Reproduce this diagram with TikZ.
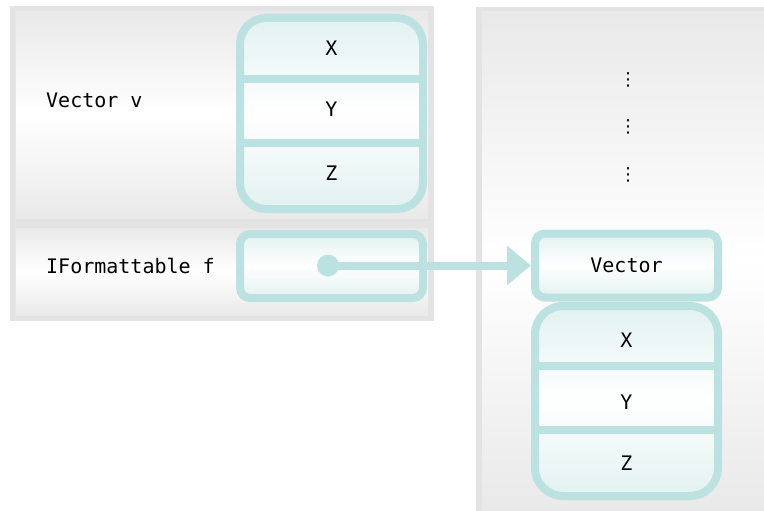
\documentclass[tikz,border=0pt]{standalone}
\usepackage{fontspec}
\setmonofont{DejaVu Sans Mono}
\newfontfamily\dotsfont{DejaVu Sans}
\usetikzlibrary{arrows.meta}
\definecolor{slotline}{HTML}{BCE1E1}
\definecolor{slotfill}{HTML}{E2F1F1}
\definecolor{panelrim}{HTML}{E3E3E3}
\definecolor{panelfill}{HTML}{E9E9E9}
\begin{document}
\begin{tikzpicture}[x=1pt,y=-1pt,
	panel/.style={top color=panelfill,bottom color=panelfill,middle color=white},
	slot/.style={draw=slotline,line width=8pt,top color=slotfill,bottom color=slotfill,middle color=white},
	rule/.style={draw=slotline,line width=8pt},
	lbl/.style={font=\ttfamily\fontsize{20}{24}\selectfont,text=black,inner sep=0pt},
	gap/.style={font=\dotsfont\fontsize{18}{18}\selectfont,text=black,inner sep=0pt}]
	    \useasboundingbox (0,0) rectangle (764,511);
	    \fill[white](0,0) rectangle (764,511);
	    \fill[panelrim](10,6) rectangle (434,321);
	    \fill[panel](16,12) rectangle (428,218);
	    \fill[panel](16,228) rectangle (428,315);
	    \fill[panelrim](476,7) rectangle (764,511);
	    \fill[panel](482,12) rectangle (764,511);

	    \node[lbl,anchor=west] (vv) at (46,100) {Vector v};
	    \node[lbl,anchor=west] (ff) at (46,266) {IFormattable f};

	    \draw[slot,rounded corners=26pt](240,18) rectangle (423,209);
	    \draw[rule](240,79)--(423,79);
	    \draw[rule](240,143)--(423,143);
	    \node[lbl] (vx) at (331.5,48) {X};
	    \node[lbl] (vy) at (331.5,109) {Y};
	    \node[lbl] (vz) at (331.5,173) {Z};

	    \node[slot,rounded corners=10pt,minimum width=183pt,minimum height=64pt,outer sep=4pt] (fbox) at (331.5,266) {};
	    \node[circle,fill=slotline,minimum size=22pt,inner sep=0pt] (ptr) at (328,265.5) {};

	    \node[gap] (d1) at (628,80) {⋮};
	    \node[gap] (d2) at (628,127) {⋮};
	    \node[gap] (d3) at (628,175) {⋮};

	    \node[slot,rounded corners=10pt,minimum width=183pt,minimum height=64pt,outer sep=4pt,lbl] (vec) at (626.5,265.5) {Vector};
	    \draw[slot,rounded corners=28pt](535,306) rectangle (718,496);
	    \draw[rule](535,366)--(718,366);
	    \draw[rule](535,430)--(718,430);
	    \node[lbl] (hx) at (626.5,340) {X};
	    \node[lbl] (hy) at (626.5,402) {Y};
	    \node[lbl] (hz) at (626.5,463) {Z};

	    \draw[rule,-{Triangle[length=24pt,width=38pt]}](ptr.center)--(vec.west);
	\end{tikzpicture}
\end{document}
